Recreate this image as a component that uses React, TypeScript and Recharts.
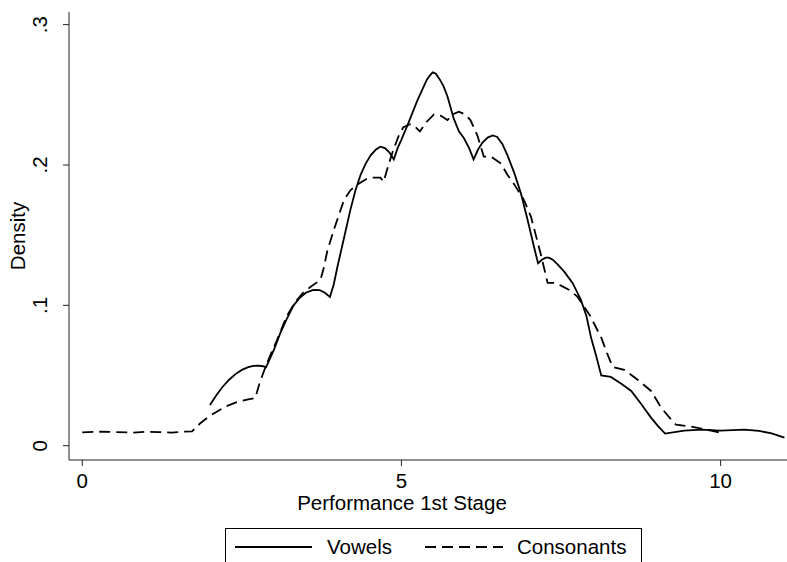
import React from "react";
import { LineChart, Line, XAxis, YAxis, Legend } from "recharts";

const vowelsX = [2.0, 2.1, 2.2, 2.3, 2.4, 2.5, 2.6, 2.68, 2.76, 2.83, 2.88, 3.0, 3.1, 3.2, 3.31, 3.4, 3.5, 3.62, 3.72, 3.8, 3.88, 3.94, 4.0, 4.1, 4.2, 4.28, 4.36, 4.44, 4.52, 4.6, 4.67, 4.74, 4.81, 4.88, 4.94, 5.0, 5.11, 5.25, 5.33, 5.4, 5.45, 5.49, 5.54, 5.6, 5.66, 5.72, 5.82, 5.9, 5.98, 6.06, 6.13, 6.2, 6.27, 6.35, 6.43, 6.5, 6.58, 6.66, 6.77, 6.87, 6.97, 7.08, 7.14, 7.2, 7.26, 7.31, 7.37, 7.45, 7.55, 7.68, 7.81, 7.9, 7.97, 8.05, 8.13, 8.28, 8.45, 8.6, 8.75, 8.91, 9.02, 9.13, 9.43, 9.7, 10.0, 10.37, 10.6, 10.8, 11.0];
const vowelsY = [0.029, 0.036, 0.042, 0.047, 0.051, 0.054, 0.056, 0.0568, 0.057, 0.0566, 0.056, 0.068, 0.08, 0.09, 0.1, 0.105, 0.109, 0.111, 0.1108, 0.109, 0.106, 0.115, 0.128, 0.148, 0.168, 0.182, 0.193, 0.201, 0.207, 0.211, 0.213, 0.212, 0.209, 0.204, 0.212, 0.218, 0.23, 0.246, 0.254, 0.261, 0.264, 0.266, 0.265, 0.261, 0.256, 0.249, 0.233, 0.224, 0.219, 0.212, 0.204, 0.211, 0.216, 0.2195, 0.221, 0.22, 0.215, 0.207, 0.194, 0.18, 0.162, 0.141, 0.13, 0.1325, 0.134, 0.134, 0.1325, 0.129, 0.124, 0.116, 0.104, 0.092, 0.077, 0.064, 0.05, 0.049, 0.044, 0.039, 0.03, 0.02, 0.014, 0.0086, 0.0107, 0.0114, 0.0107, 0.0114, 0.0105, 0.0088, 0.0057];

const consonantsX = [0.0, 0.3, 0.5, 0.8, 1.0, 1.2, 1.4, 1.6, 1.72, 1.85, 1.96, 2.06, 2.25, 2.42, 2.6, 2.71, 2.78, 2.87, 2.96, 3.05, 3.2, 3.33, 3.46, 3.6, 3.73, 3.78, 3.84, 3.95, 4.1, 4.2, 4.31, 4.45, 4.54, 4.67, 4.72, 4.79, 4.86, 4.95, 5.03, 5.14, 5.22, 5.29, 5.4, 5.51, 5.62, 5.72, 5.8, 5.9, 6.0, 6.08, 6.19, 6.29, 6.4, 6.56, 6.66, 6.77, 6.92, 7.03, 7.18, 7.29, 7.4, 7.5, 7.63, 7.76, 7.95, 8.13, 8.22, 8.31, 8.49, 8.7, 8.91, 9.07, 9.2, 9.3, 9.54, 9.7, 9.85, 10.0];
const consonantsY = [0.0095, 0.01, 0.0097, 0.0093, 0.01, 0.0097, 0.0093, 0.01, 0.0102, 0.016, 0.02, 0.023, 0.028, 0.031, 0.033, 0.034, 0.045, 0.056, 0.066, 0.075, 0.092, 0.102, 0.109, 0.114, 0.118, 0.126, 0.139, 0.155, 0.175, 0.182, 0.186, 0.19, 0.191, 0.191, 0.188, 0.199, 0.209, 0.22, 0.227, 0.229, 0.227, 0.224, 0.231, 0.236, 0.235, 0.232, 0.236, 0.238, 0.236, 0.232, 0.221, 0.206, 0.206, 0.201, 0.193, 0.186, 0.175, 0.163, 0.137, 0.116, 0.116, 0.114, 0.111, 0.106, 0.093, 0.077, 0.066, 0.056, 0.054, 0.047, 0.039, 0.027, 0.02, 0.015, 0.0136, 0.0122, 0.0107, 0.0093];

const xTicks = [0, 5, 10];
const yTicks = [0, 0.1, 0.2, 0.3];
const yTickLabels = ["0", ".1", ".2", ".3"];

const vowelsData = vowelsX.map((x, i) => ({ x, y: vowelsY[i] }));
const consonantsData = consonantsX.map((x, i) => ({ x, y: consonantsY[i] }));

const FONT = "Arial, 'Liberation Sans', Helvetica, sans-serif";
const FS = 20.5;

const YTick = (props: any) => {
  const { x, y, payload } = props;
  const idx = yTicks.indexOf(payload.value);
  const cx = x - 23;
  return (
    <text x={cx} y={y} dy="0.36em" textAnchor="middle" transform={`rotate(-90, ${cx}, ${y})`}
      fontFamily={FONT} fontSize={FS} fill="#000">
      {idx >= 0 ? yTickLabels[idx] : String(payload.value)}
    </text>
  );
};

const XTick = (props: any) => {
  const { x, y, payload } = props;
  return (
    <text x={x} y={y + 13} dy="0.36em" textAnchor="middle" fontFamily={FONT} fontSize={FS} fill="#000">
      {String(payload.value)}
    </text>
  );
};

const LegendBox = () => (
  <svg width={417} height={40} style={{ display: "block" }}>
    <rect x={0.5} y={0.5} width={416} height={45} fill="#fff" stroke="#000" strokeWidth={1} />
    <line x1={10} y1={19} x2={87} y2={19} stroke="#000" strokeWidth={1.8} />
    <text x={102} y={19} dy="0.36em" fontFamily={FONT} fontSize={FS} fill="#000">Vowels</text>
    <line x1={200} y1={19} x2={278} y2={19} stroke="#000" strokeWidth={1.8} strokeDasharray="11 6" />
    <text x={292} y={19} dy="0.36em" fontFamily={FONT} fontSize={FS} fill="#000">Consonants</text>
  </svg>
);

export default function App() {
  return (
    <div style={{ position: "absolute", left: 0, top: 0, width: 787, height: 562, overflow: "hidden", background: "#fff" }}>
      <LineChart width={787} height={562} margin={{ top: 12, right: 0, left: 0, bottom: 0 }}>
        <XAxis
          type="number"
          dataKey="x"
          domain={[-0.208, 11.04]}
          ticks={xTicks}
          allowDataOverflow
          height={102}
          tickSize={6}
          tickMargin={2}
          stroke="#222"
          tick={<XTick />}
          label={{
            content: () => (
              <text x={402} y={503} dy="0.36em" textAnchor="middle" fontFamily={FONT} fontSize={FS} fill="#000">
                Performance 1st Stage
              </text>
            ),
          }}
        />
        <YAxis
          type="number"
          dataKey="y"
          domain={[-0.0102, 0.309]}
          ticks={yTicks}
          allowDataOverflow
          width={69}
          tickSize={6}
          tickMargin={0}
          stroke="#222"
          tick={<YTick />}
          label={{
            content: () => (
              <text x={18} y={236} dy="0.36em" textAnchor="middle" transform="rotate(-90, 18, 236)"
                fontFamily={FONT} fontSize={FS} fill="#000">
                Density
              </text>
            ),
          }}
        />
        <Legend
          layout="horizontal"
          verticalAlign="middle"
          align="center"
          content={() => <LegendBox />}
          wrapperStyle={{ position: "absolute", left: 225, top: 528, width: 417, height: 40 }}
        />
        <Line data={vowelsData} dataKey="y" name="Vowels" type="linear" stroke="#000" strokeWidth={1.8}
          dot={false} activeDot={false} isAnimationActive={false} />
        <Line data={consonantsData} dataKey="y" name="Consonants" type="linear" stroke="#000" strokeWidth={1.8}
          strokeDasharray="11 6" dot={false} activeDot={false} isAnimationActive={false} />
      </LineChart>
    </div>
  );
}
